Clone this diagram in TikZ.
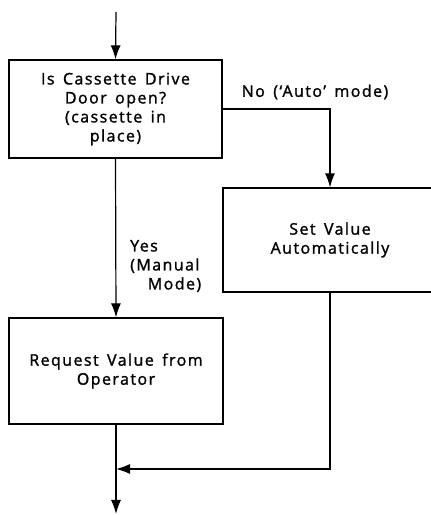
\documentclass[tikz,border=0pt]{standalone}
\usepackage{fontspec}
\setmainfont{Open Sans}[LetterSpace=9, WordSpace=1.5, FakeBold=1.4]
\usetikzlibrary{arrows.meta}

\begin{document}
\begin{tikzpicture}[
    x=1pt, y=1pt,
    font=\fontsize{16}{19}\selectfont,
    box/.style={draw, line width=1.3pt, inner sep=0pt, align=center},
    flow/.style={line width=1.2pt, -{Latex[length=14pt, width=10pt]}},
    lab/.style={align=left, inner sep=0pt},
]
\useasboundingbox (0,0) rectangle (431,515);

% ---- boxes ----
\node[box, minimum width=213, minimum height=98] (door) at (115.5,406)
    {Is Cassette Drive\\Door open?\\(cassette in\\place)};
\node[box, minimum width=214, minimum height=104] (auto) at (330,275)
    {Set Value\\Automatically};
\node[box, minimum width=214, minimum height=106] (ask) at (116,144)
    {Request Value from\\Operator};

\coordinate (start) at (116,503);
\coordinate (join) at (116,46);
\coordinate (finish) at (116,1);

% ---- connectors ----
\draw[flow] (start) -- (door.north);
\draw[flow] (door.east) -| (auto.north);
\draw[flow] (door.south) -- (ask.north);
\draw[flow] (ask.south) -- (finish);
\draw[flow] (auto.south) |- (join);

% ---- branch labels ----
\node[lab] at (315,423) {No (`Auto' mode)};
\node[lab, anchor=west] at (130,249) {Yes\\(Manual\\\hspace*{1.1em}Mode)};
\end{tikzpicture}
\end{document}
